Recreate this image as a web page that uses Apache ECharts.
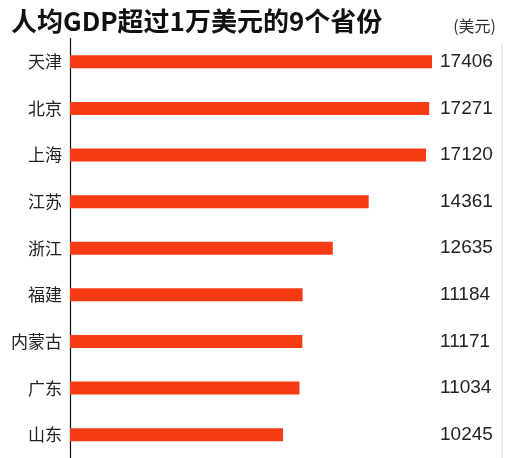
<!DOCTYPE html>
<html><head><meta charset="utf-8">
<script src="https://cdn.jsdelivr.net/npm/echarts@6/dist/echarts.min.js"></script>
<style>html,body{margin:0;padding:0;background:#fff}#c{width:510px;height:458px}</style>
</head><body><div id="c"></div>
<script>
const provinces = ['天津','北京','上海','江苏','浙江','福建','内蒙古','广东','山东'];
const gdpPerCapita = [17406,17271,17120,14361,12635,11184,11171,11034,10245];
const titleText = '人均GDP超过1万美元的9个省份';
const unitText = '(美元)';

const chart = echarts.init(document.getElementById('c'));
chart.setOption({
  animation: false,
  backgroundColor: '#fff',
  title: [
    {text: titleText, left: 6, top: 3,
     textStyle: {fontFamily: 'Noto Sans CJK SC', fontWeight: 'bold', fontSize: 26, color: '#111'}},
    {text: unitText, right: 9, top: 13,
     textStyle: {fontFamily: 'Noto Sans CJK SC', fontWeight: 'normal', fontSize: 16, color: '#333'}}
  ],
  graphic: [
    {type: 'line', shape: {x1: 502, y1: 43, x2: 502, y2: 458}, style: {stroke: '#d8d8d8', lineWidth: 1}}
  ],
  grid: {left: 70, right: 78, top: 38.5, height: 426, containLabel: false},
  xAxis: {type: 'value', min: 0, max: 'dataMax', show: false},
  yAxis: [
    {type: 'category', data: provinces, inverse: true,
     axisLine: {show: true, lineStyle: {color: '#111', width: 1.2}},
     axisTick: {show: false},
     axisLabel: {margin: 8, fontFamily: 'Noto Sans CJK SC', fontSize: 17, color: '#222'}},
    {type: 'category', data: gdpPerCapita.map(String), inverse: true, position: 'right',
     axisLine: {show: false}, axisTick: {show: false},
     axisLabel: {margin: 8, fontFamily: 'Liberation Sans, Arial, sans-serif', fontSize: 19, color: '#222'}}
  ],
  series: [{
    type: 'bar', data: gdpPerCapita, barWidth: 13,
    itemStyle: {color: '#f73b14'}
  }]
});
</script></body></html>
